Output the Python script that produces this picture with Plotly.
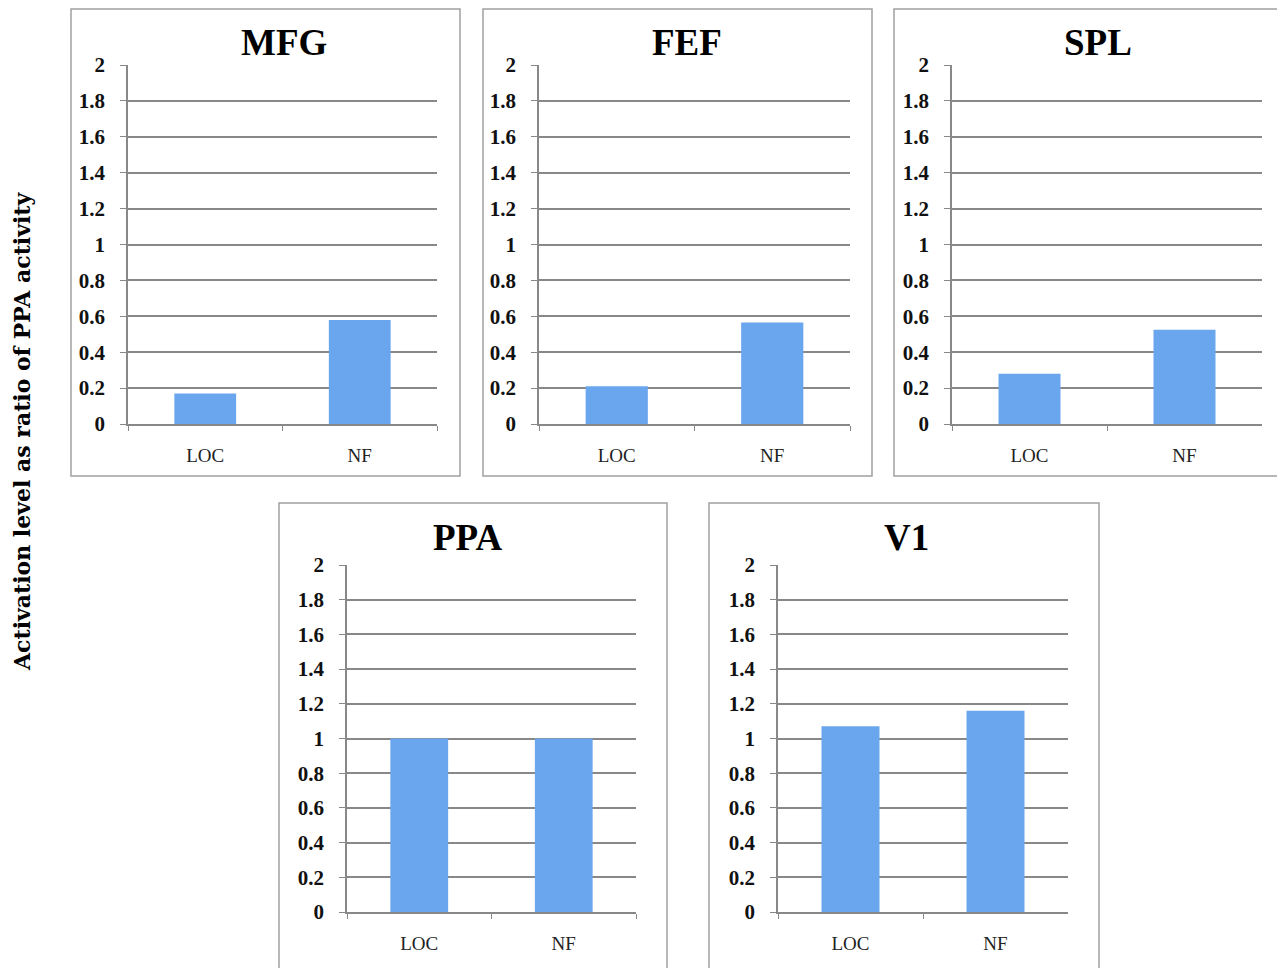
import plotly.graph_objects as go

regions = ["MFG", "FEF", "SPL", "PPA", "V1"]
categories = ["LOC", "NF"]
loc_values = [0.17, 0.21, 0.28, 1.0, 1.07]
nf_values = [0.58, 0.565, 0.525, 1.0, 1.16]
y_ticks = [0, 0.2, 0.4, 0.6, 0.8, 1, 1.2, 1.4, 1.6, 1.8, 2]
y_tick_labels = ["0", "0.2", "0.4", "0.6", "0.8", "1", "1.2", "1.4", "1.6", "1.8", "2"]
y_title = "Activation level as ratio of PPA activity"

W, H = 1285, 968
OFF = 8  # page body margin


def px_x(x):
    return (x - OFF) / W


def px_y(y):
    return 1 - (y - OFF) / H


# plot-area pixel boxes (left, right, top, bottom)
plot_px = [
    (128, 437, 65, 424),
    (539, 850, 65, 424),
    (952, 1262, 65, 424),
    (347, 636, 565, 912),
    (778, 1068, 565, 912),
]
# panel frames (left, right, top, bottom)
frame_px = [
    (71, 460, 9, 476),
    (483, 872, 9, 476),
    (894, 1283, 9, 476),
    (279, 667, 503, 975),
    (709, 1099, 503, 975),
]
title_px = [(284, 42), (687, 42), (1098, 42), (467, 537), (906, 537)]

serif = "Liberation Serif"
grid_col = "#888888"
bar_col = "#6aa6ed"

fig = go.Figure()
for i, reg in enumerate(regions):
    n = "" if i == 0 else str(i + 1)
    fig.add_trace(go.Bar(
        x=categories, y=[loc_values[i], nf_values[i]],
        width=0.4, marker=dict(color=bar_col, line=dict(width=0)),
        xaxis="x" + n, yaxis="y" + n, showlegend=False,
    ))
    l, r, t, b = plot_px[i]
    fig.layout["xaxis" + n] = dict(
        domain=[px_x(l), px_x(r)], anchor="y" + n, type="category", automargin=False,
        range=[-0.5, 1.5], showgrid=False, showline=True, linecolor=grid_col,
        linewidth=1.5, ticks="outside", tickson="boundaries", ticklen=5,
        tickcolor=grid_col, tickfont=dict(family=serif, size=19, color="#222"),
        ticklabelstandoff=13, fixedrange=True,
    )
    fig.layout["yaxis" + n] = dict(
        domain=[px_y(b), px_y(t)], anchor="x" + n, range=[0, 2], automargin=False,
        tickvals=y_ticks, ticktext=y_tick_labels, showgrid=True,
        gridcolor=grid_col, gridwidth=1.8, showline=True, linecolor=grid_col,
        linewidth=1.5, ticks="outside", ticklen=6, tickcolor=grid_col,
        tickfont=dict(family=serif, size=21, color="#111", weight="bold"),
        ticklabelstandoff=11, zeroline=False, fixedrange=True,
    )
    fl, fr, ft, fb = frame_px[i]
    fig.add_shape(type="rect", xref="paper", yref="paper",
                  x0=px_x(fl), x1=px_x(fr), y0=px_y(fb), y1=px_y(ft),
                  line=dict(color="#a0a0a0", width=1.5), fillcolor="rgba(0,0,0,0)",
                  layer="below")
    tx, ty = title_px[i]
    fig.add_annotation(text="<b>" + reg + "</b>", xref="paper", yref="paper",
                       x=px_x(tx), y=px_y(ty), showarrow=False,
                       xanchor="center", yanchor="middle",
                       font=dict(family=serif, size=37, color="#000"))

fig.add_annotation(text="<b>" + y_title + "</b>", xref="paper", yref="paper",
                   x=px_x(22), y=px_y(431), showarrow=False, textangle=-90,
                   xanchor="center", yanchor="middle",
                   font=dict(family="DejaVu Serif", size=22, color="#000"))

fig.update_layout(
    width=W, height=H, margin=dict(l=0, r=0, t=0, b=0, autoexpand=False),
    plot_bgcolor="white", paper_bgcolor="white", bargap=0.6,
)
fig.write_html("out.html")
